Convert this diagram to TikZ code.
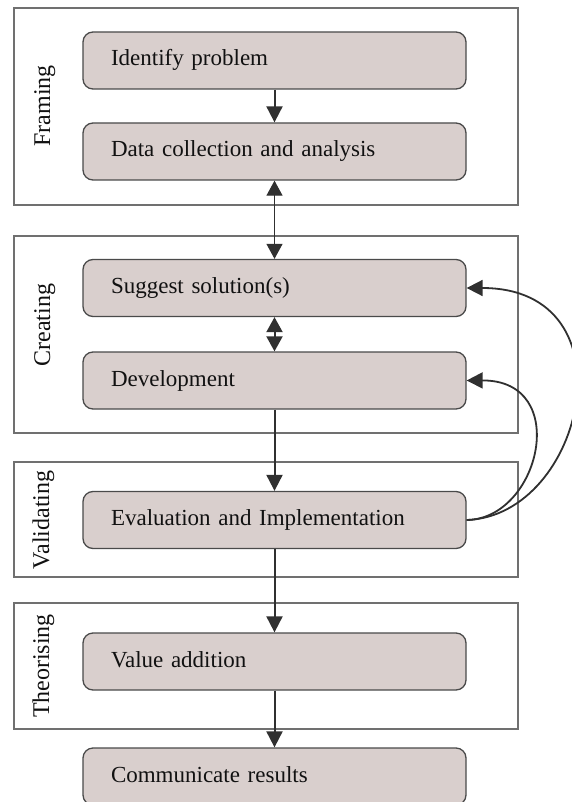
\documentclass[tikz,border=0pt]{standalone}
\usepackage{fontspec}
\setmainfont{Liberation Serif}
\usetikzlibrary{arrows.meta}

\definecolor{boxfill}{HTML}{D9CFCD}
\definecolor{boxedge}{HTML}{4A4A4A}
\definecolor{framegray}{HTML}{707070}
\definecolor{arrowdark}{HTML}{303030}
\definecolor{textdark}{HTML}{111111}

\begin{document}
\begin{tikzpicture}[x=1pt, y=-1pt,
  stage/.style={draw=framegray, line width=1.2pt},
  stagelabel/.style={rotate=90, anchor=base, font=\fontsize{24}{28}\selectfont, text=textdark},
  stepbox/.style={draw=boxedge, fill=boxfill, line width=1.3pt, rounded corners=10pt,
    minimum height=57pt, text width=327pt, inner xsep=28pt, inner ysep=0pt,
    text height=16pt, text depth=5pt, align=left,
    font=\fontsize{23}{27}\selectfont, text=textdark},
  flow/.style={draw=arrowdark, line width=2pt, -{Triangle[length=16pt, width=16pt]}},
  flowboth/.style={draw=arrowdark, line width=2pt, {Triangle[length=15pt, width=16pt]}-{Triangle[length=15pt, width=16pt]}},
  thinboth/.style={draw=arrowdark, line width=1.2pt, {Triangle[length=15pt, width=16pt]}-{Triangle[length=15pt, width=16pt]}},
  loopback/.style={draw=arrowdark, line width=1.8pt, -{Triangle[length=16pt, width=16pt]}}
]
\useasboundingbox (0,0) rectangle (571,802);

% stage frames
\draw[stage] (14,8) rectangle (518,205);
\draw[stage] (14,236) rectangle (518,433);
\draw[stage] (14,462) rectangle (518,577);
\draw[stage] (14,603) rectangle (518,729);

% stage labels
\node[stagelabel] (lframing) at (50,106) {Framing};
\node[stagelabel] (lcreating) at (50,325) {Creating};
\node[stagelabel] (lvalidating) at (49,520) {Validating};
\node[stagelabel] (ltheorising) at (49,666) {Theorising};

% process steps
\node[stepbox] (idp) at (274.5,60.5) {Identify problem};
\node[stepbox] (dca) at (274.5,151.5) {Data collection and analysis};
\node[stepbox] (sug) at (274.5,288) {Suggest solution(s)};
\node[stepbox] (dev) at (274.5,380.5) {Development};
\node[stepbox] (eva) at (274.5,520) {Evaluation and Implementation};
\node[stepbox] (val) at (274.5,661.5) {Value addition};
\node[stepbox] (com) at (274.5,776.5) {Communicate results};

% connectors
\draw[flow] (idp.south) -- (dca.north);
\draw[thinboth] (dca.south) -- (sug.north);
\draw[flowboth] (sug.south) -- (dev.north);
\draw[flow] (dev.south) -- (eva.north);
\draw[flow] (eva.south) -- (val.north);
\draw[flow] (val.south) -- (com.north);

% feedback loops
\draw[loopback] (eva.east) .. controls (585,516) and (635,288) .. (sug.east);
\draw[loopback] (eva.east) .. controls (540,519) and (572,380) .. (dev.east);
\end{tikzpicture}
\end{document}
